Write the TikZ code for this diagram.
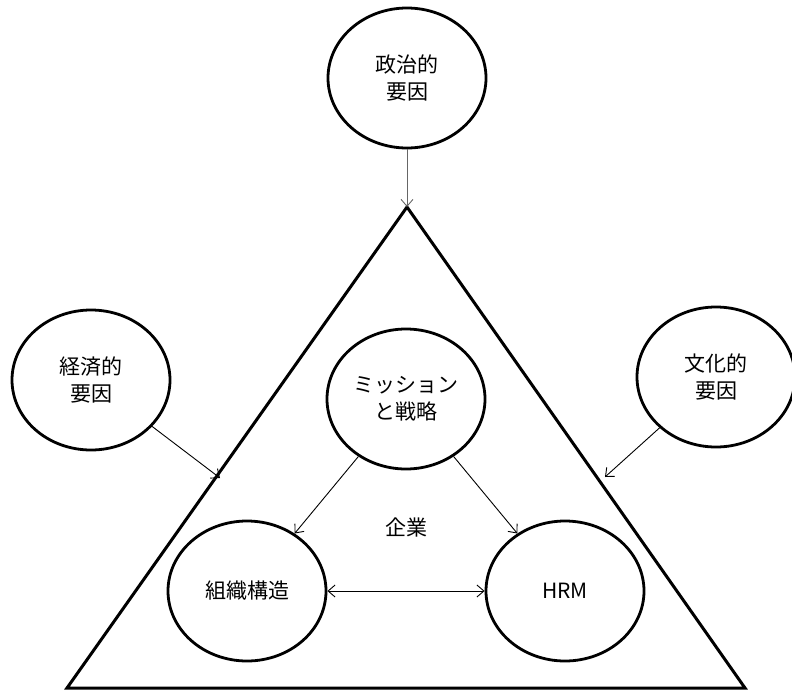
\documentclass[tikz,border=0pt]{standalone}
\usepackage{fontspec}
\setmainfont{Noto Sans CJK JP}
\usetikzlibrary{arrows.meta,shapes.geometric}
\begin{document}
\begin{tikzpicture}[x=1pt,y=-1pt,
  txt/.style={font=\fontsize{21}{27}\selectfont},
  oval/.style={draw,line width=2.8pt,ellipse,minimum width=158pt,minimum height=140pt,inner sep=0pt,align=center,txt},
  conn/.style={line width=0.9pt,-{Straight Barb[length=7pt,width=12pt]}},
  conn2/.style={line width=0.9pt,{Straight Barb[length=7pt,width=12pt]}-{Straight Barb[length=7pt,width=12pt]}}]
\useasboundingbox (0,0) rectangle (792,691);
\draw[line width=3pt,line join=miter] (407,207) coordinate (apex) -- (67,688) -- (745,688) -- cycle;
\node[oval] (pol) at (407,78) {政治的\\要因};
\node[oval] (eco) at (91,380) {経済的\\要因};
\node[oval] (cul) at (716,377) {文化的\\要因};
\node[oval] (mis) at (406,399) {ミッション\\と戦略};
\node[oval] (org) at (247,591) {組織構造};
\node[oval] (hrm) at (565,591) {HRM};
\node[txt] (ent) at (406,527) {企業};
\coordinate (lt) at (220,478);
\coordinate (rt) at (605,477);
\draw[conn,draw=black!60] (pol) -- (apex);
\draw[conn] (eco) -- (lt);
\draw[conn] (cul) -- (rt);
\draw[conn] (mis) -- (org);
\draw[conn] (mis) -- (hrm);
\draw[conn2] (org) -- (hrm);
\end{tikzpicture}
\end{document}
